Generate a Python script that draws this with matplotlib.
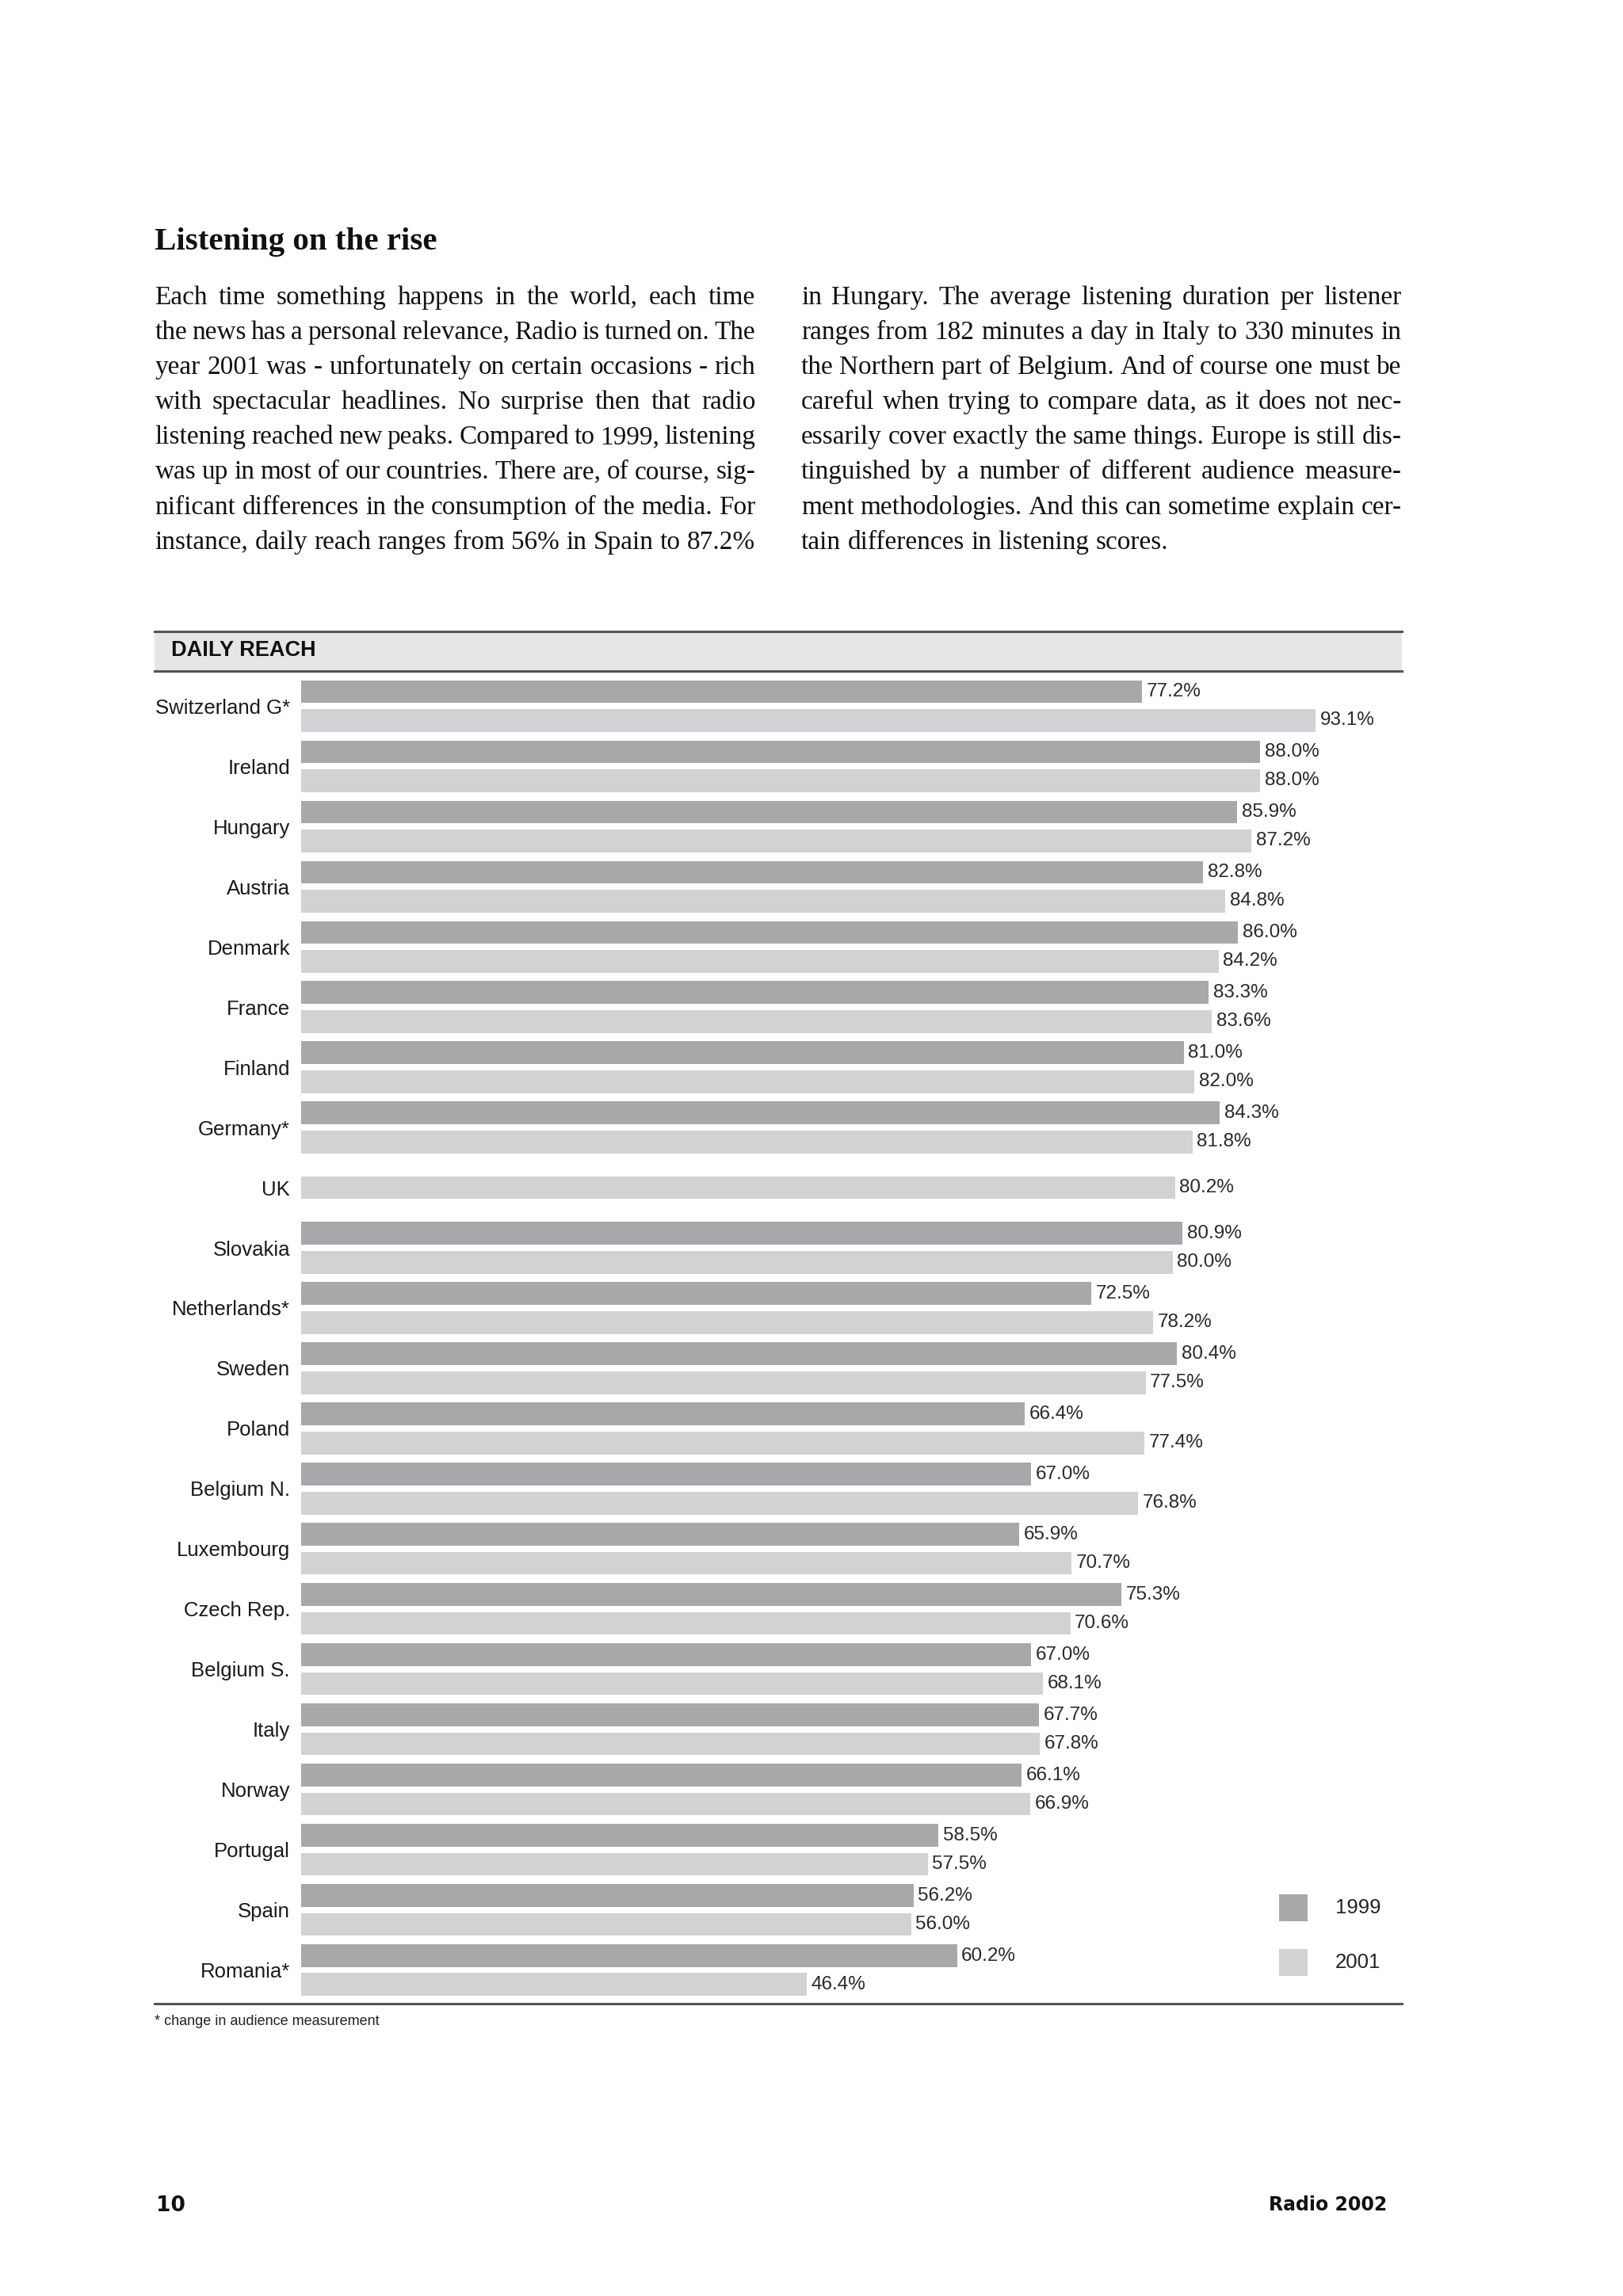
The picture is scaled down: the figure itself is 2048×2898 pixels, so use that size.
import numpy as np
import matplotlib
matplotlib.use("Agg")
import matplotlib.pyplot as plt
from matplotlib.patches import Rectangle
from matplotlib.lines import Line2D

# --- data -------------------------------------------------------------
countries = ['Switzerland G*', 'Ireland', 'Hungary', 'Austria', 'Denmark', 'France',
             'Finland', 'Germany*', 'UK', 'Slovakia', 'Netherlands*', 'Sweden',
             'Poland', 'Belgium N.', 'Luxembourg', 'Czech Rep.', 'Belgium S.',
             'Italy', 'Norway', 'Portugal', 'Spain', 'Romania*']
reach_1999 = [77.2, 88.0, 85.9, 82.8, 86.0, 83.3, 81.0, 84.3, np.nan, 80.9, 72.5,
              80.4, 66.4, 67.0, 65.9, 75.3, 67.0, 67.7, 66.1, 58.5, 56.2, 60.2]
reach_2001 = [93.1, 88.0, 87.2, 84.8, 84.2, 83.6, 82.0, 81.8, 80.2, 80.0, 78.2,
              77.5, 77.4, 76.8, 70.7, 70.6, 68.1, 67.8, 66.9, 57.5, 56.0, 46.4]
years = ['1999', '2001']

title = 'Listening on the rise'
left_col = [
    'Each time something happens in the world, each time',
    'the news has a personal relevance, Radio is turned on. The',
    'year 2001 was - unfortunately on certain occasions - rich',
    'with spectacular headlines. No surprise then that radio',
    'listening reached new peaks. Compared to 1999, listening',
    'was up in most of our countries. There are, of course, sig-',
    'nificant differences in the consumption of the media. For',
    'instance, daily reach ranges from 56% in Spain to 87.2%',
]
right_col = [
    'in Hungary. The average listening duration per listener',
    'ranges from 182 minutes a day in Italy to 330 minutes in',
    'the Northern part of Belgium. And of course one must be',
    'careful when trying to compare data, as it does not nec-',
    'essarily cover exactly the same things. Europe is still dis-',
    'tinguished by a number of different audience measure-',
    'ment methodologies. And this can sometime explain cer-',
    'tain differences in listening scores.',
]

# --- page setup ---------------------------------------------------------
W, H = 1100.0, 1556.0          # page units (scaled to the 2048x2898 canvas)
def fx(x): return x / W
def fy(y): return 1 - y / H

c99 = '#a8a8aa'
c01 = '#d2d2d4'
dark = '#555555'
txt = '#222222'
serif = ['Liberation Serif', 'DejaVu Serif']
sans = ['Liberation Sans', 'DejaVu Sans']

fig = plt.figure(figsize=(20.48, 28.98), dpi=100)
renderer = fig.canvas.get_renderer()
FW = fig.get_figwidth() * fig.dpi
COL = (512 - 105) * FW / W     # column width in pixels

# title
fig.text(fx(105), fy(169), title, family=serif, weight='bold', fontsize=29.5,
         color='#111111', va='baseline', ha='left')

def width(s, size):
    t = fig.text(0, 0, s, family=serif, fontsize=size)
    w = t.get_window_extent(renderer).width
    t.remove()
    return w

# pick one body size so every line fits with a tight word gap
base = 20.0
space = width('x x', base) - width('xx', base)
fits = []
for line in left_col + right_col[:-1]:
    words = line.split(' ')
    need = sum(width(w, base) for w in words) + 0.75 * space * (len(words) - 1)
    fits.append(COL / need)
body_size = min(base * min(fits), 24.5)

def put_line(line, x0, base_y, justify=True):
    words = line.split(' ')
    objs = [fig.text(0, fy(base_y), w, family=serif, fontsize=body_size,
                     color='#111111', va='baseline', ha='left') for w in words]
    widths = [o.get_window_extent(renderer).width for o in objs]
    if justify and len(words) > 1:
        gap = (COL - sum(widths)) / (len(words) - 1)
    else:
        gap = width('x x', body_size) - width('xx', body_size)
    xp = x0 * FW / W
    for o, w in zip(objs, widths):
        o.set_x(xp / FW)
        xp += w + gap

for i, line in enumerate(left_col):
    put_line(line, 105, 206 + i * 23.7)
for i, line in enumerate(right_col):
    put_line(line, 543, 206 + i * 23.7, justify=(i < len(right_col) - 1))

# header band
fig.patches.append(Rectangle((fx(105), fy(455)), fx(950) - fx(105), fy(428) - fy(455),
                             transform=fig.transFigure, fc='#e6e6e6', ec='none', zorder=0))
for yy in (428, 455, 1358):
    fig.add_artist(Line2D([fx(105), fx(950)], [fy(yy), fy(yy)], color=dark, lw=2.2))
fig.text(fx(116), fy(441), 'DAILY REACH', family=sans, weight='bold', fontsize=19.5,
         color='#111111', va='center', ha='left')

# --- chart --------------------------------------------------------------
ax = fig.add_axes([fx(204), fy(1356), fx(950) - fx(204), fy(457) - fy(1356)])
pos = np.arange(len(countries))
h = 0.38
off = 0.239
lab_kw = dict(xytext=(4, 0), textcoords='offset points', va='center', ha='left',
              family=sans, fontsize=17.5, color='#2a2a2a')
for i, (a, b) in enumerate(zip(reach_1999, reach_2001)):
    if np.isnan(a):
        ax.barh(pos[i], b, height=h, color=c01)
        ax.annotate(f'{b:.1f}%', (b, pos[i]), **lab_kw)
        continue
    ax.barh(pos[i] - off, a, height=h, color=c99)
    ax.barh(pos[i] + off, b, height=h, color=c01)
    ax.annotate(f'{a:.1f}%', (a, pos[i] - off), **lab_kw)
    ax.annotate(f'{b:.1f}%', (b, pos[i] + off), **lab_kw)

ax.set_xlim(0, 101)
ax.set_ylim(21.51, -0.527)
ax.set_yticks(pos)
ax.set_yticklabels(countries, family=sans, fontsize=18.5, color='#1a1a1a')
ax.tick_params(axis='y', length=0, pad=10)
ax.set_xticks([])
for s in ax.spines.values():
    s.set_visible(False)
ax.patch.set_visible(False)

# legend squares
for (yy, col, lab) in ((1284, c99, years[0]), (1321, c01, years[1])):
    fig.patches.append(Rectangle((fx(867), fy(yy + 18)), fx(886) - fx(867), fy(yy) - fy(yy + 18),
                                 transform=fig.transFigure, fc=col, ec='none'))
    fig.text(fx(905), fy(yy + 9), lab, family=sans, fontsize=18.5, color=txt,
             va='center', ha='left')

# footnote and folio
fig.text(fx(105), fy(1370), '* change in audience measurement', family=sans,
         fontsize=13, color=txt, va='center', ha='left')
fig.text(fx(106), fy(1495), '10', family=['DejaVu Sans'], weight='bold', fontsize=19,
         color='#111111', va='center', ha='left')
fig.text(fx(940), fy(1494), 'Radio 2002', family=['DejaVu Sans'], weight='heavy',
         fontsize=17, color='#111111', va='center', ha='right')

fig.savefig('out.png', dpi=100, facecolor='white')
